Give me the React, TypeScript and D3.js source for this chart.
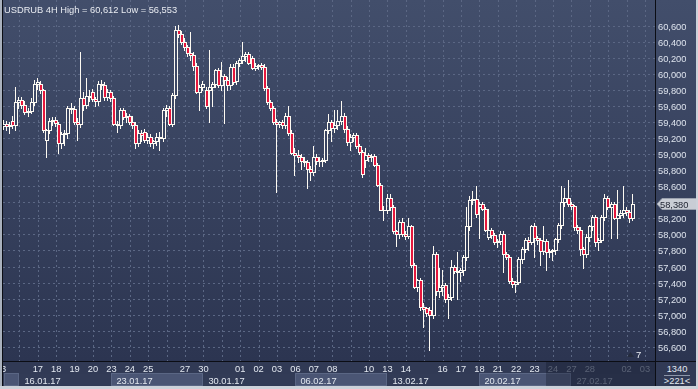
import React from 'react';
import * as d3 from 'd3';

const W = 698;
const H = 389;
const plotRight = 655;
const axisTop = 361;

const title = 'USDRUB 4H High = 60,612 Low = 56,553';
const lastPrice = 58.38;

const priceTicks = [
  56.6, 56.8, 57.0, 57.2, 57.4, 57.6, 57.8, 58.0, 58.2, 58.4, 58.6,
  58.8, 59.0, 59.2, 59.4, 59.6, 59.8, 60.0, 60.2, 60.4, 60.6,
];

// trading days, 0 = 13.01.17
const dayLabels = ['13', '17', '18', '19', '20', '23', '24', '25', '27', '30', '01', '02', '03', '06', '07', '08', '10', '13', '14', '16', '17', '18', '21', '22', '23', '24', '27', '28', '02', '03'];
const dayIndex = [0, 2, 3, 4, 5, 6, 7, 8, 10, 11, 13, 14, 15, 16, 17, 18, 20, 21, 22, 24, 25, 26, 27, 28, 29, 30, 31, 32, 34, 35];
const weekLabels = ['', '16.01.17', '23.01.17', '30.01.17', '06.02.17', '13.02.17', '20.02.17', '27.02.17'];
const weekStart = [-4, 1, 6, 11, 16, 21, 26, 31];

// open, high, low, close (thousands)
const ohlc: [number, number, number, number][] = [
  [59.35, 59.43, 59.31, 59.38], [59.38, 59.42, 59.30, 59.35], [59.35, 59.40, 59.27, 59.37], [59.42, 59.48, 59.33, 59.36],
  [59.36, 59.84, 59.30, 59.65], [59.65, 59.72, 59.58, 59.68], [59.68, 59.72, 59.58, 59.62], [59.62, 59.66, 59.50, 59.53],
  [59.53, 59.58, 59.48, 59.54], [59.54, 59.70, 59.52, 59.65], [59.65, 59.93, 59.62, 59.88], [59.88, 59.95, 59.82, 59.90],
  [59.88, 59.92, 59.76, 59.80], [59.80, 59.82, 59.28, 59.30], [59.18, 59.32, 58.96, 59.30], [59.30, 59.45, 59.26, 59.42],
  [59.42, 59.46, 59.36, 59.43], [59.43, 59.46, 59.35, 59.39], [59.38, 59.40, 59.02, 59.14], [59.14, 59.28, 59.08, 59.25],
  [59.25, 59.30, 59.12, 59.27], [59.27, 59.60, 59.20, 59.58], [59.58, 59.64, 59.52, 59.57], [59.57, 59.60, 59.38, 59.40],
  [59.40, 59.45, 59.18, 59.38], [59.38, 60.27, 59.34, 59.70], [59.70, 59.78, 59.55, 59.62], [59.62, 59.95, 59.58, 59.73],
  [59.73, 59.80, 59.66, 59.72], [59.78, 59.82, 59.66, 59.69], [59.69, 59.72, 59.60, 59.66], [59.66, 59.92, 59.62, 59.88],
  [59.88, 59.93, 59.82, 59.86], [59.86, 59.90, 59.68, 59.72], [59.72, 59.82, 59.68, 59.78], [59.78, 59.80, 59.66, 59.70],
  [59.70, 59.73, 59.36, 59.38], [59.38, 59.42, 59.28, 59.36], [59.36, 59.58, 59.33, 59.55], [59.55, 59.58, 59.44, 59.46],
  [59.46, 59.52, 59.40, 59.48], [59.48, 59.50, 59.38, 59.40],

  [59.40, 59.48, 59.33, 59.36], [59.36, 59.40, 59.08, 59.14], [59.14, 59.30, 59.10, 59.27], [59.27, 59.30, 59.16, 59.24],
  [59.28, 59.31, 59.15, 59.18], [59.18, 59.27, 59.14, 59.22], [59.22, 59.25, 59.10, 59.14], [59.14, 59.18, 59.08, 59.17],
  [59.17, 59.26, 59.12, 59.21], [59.21, 59.28, 59.05, 59.20], [59.20, 59.58, 59.16, 59.55], [59.55, 59.62, 59.48, 59.58],
  [59.58, 59.60, 59.36, 59.38], [59.38, 59.76, 59.35, 59.74], [59.74, 60.60, 59.70, 60.55], [60.55, 60.612, 60.46, 60.50],
  [60.50, 60.54, 60.38, 60.40], [60.40, 60.45, 60.30, 60.34], [60.34, 60.36, 60.22, 60.26], [60.26, 60.52, 60.18, 60.24],
  [60.24, 60.28, 60.05, 60.10], [60.10, 60.14, 59.76, 59.78], [59.78, 59.86, 59.55, 59.84], [59.84, 59.92, 59.80, 59.88],
  [59.80, 59.84, 59.58, 59.60], [59.80, 60.30, 59.40, 59.84], [59.84, 59.90, 59.60, 59.88], [59.88, 60.06, 59.84, 60.05],
  [60.05, 60.08, 59.84, 59.86], [59.86, 60.15, 59.80, 59.98], [59.98, 60.00, 59.39, 59.93], [59.93, 59.96, 59.80, 59.86],
  [59.86, 60.12, 59.82, 60.09], [60.09, 60.12, 59.88, 59.90], [59.92, 60.16, 59.88, 60.14], [60.14, 60.20, 60.10, 60.18],
  [60.18, 60.40, 60.14, 60.22], [60.22, 60.28, 60.16, 60.25], [60.25, 60.28, 60.12, 60.14], [60.20, 60.22, 60.06, 60.08],
  [60.08, 60.14, 60.05, 60.10], [60.10, 60.13, 60.06, 60.11],

  [60.11, 60.14, 60.06, 60.09], [60.09, 60.12, 59.80, 59.83], [59.83, 59.85, 59.63, 59.65], [59.65, 59.68, 59.55, 59.58],
  [59.58, 59.60, 59.38, 59.40], [59.40, 59.44, 58.53, 59.38], [59.38, 59.42, 59.34, 59.40], [59.40, 59.43, 59.33, 59.37],
  [59.37, 59.52, 59.33, 59.48], [59.48, 59.60, 59.24, 59.26], [59.26, 59.30, 59.00, 59.02], [59.02, 59.08, 58.74, 58.99],
  [58.99, 59.05, 58.90, 58.96], [58.96, 59.00, 58.82, 58.92], [58.92, 58.96, 58.85, 58.90], [58.90, 58.93, 58.58, 58.82],
  [58.82, 58.86, 58.68, 58.78], [58.78, 59.10, 58.74, 58.96], [58.96, 59.00, 58.88, 58.92], [58.92, 58.97, 58.86, 58.91],
  [58.91, 58.95, 58.86, 58.93], [58.93, 59.32, 58.90, 59.30], [59.30, 59.50, 59.26, 59.40], [59.40, 59.43, 59.16, 59.33],
  [59.33, 59.55, 59.28, 59.37], [59.37, 59.55, 59.32, 59.42], [59.42, 59.66, 59.38, 59.48], [59.48, 59.52, 59.28, 59.32],
  [59.32, 59.35, 59.12, 59.15], [59.15, 59.25, 59.05, 59.22], [59.22, 59.26, 59.16, 59.24], [59.24, 59.27, 59.08, 59.10],
  [59.10, 59.13, 59.00, 59.03], [59.03, 59.05, 58.72, 58.75], [58.93, 59.08, 58.84, 58.99], [58.99, 59.02, 58.92, 58.97],
  [58.97, 59.00, 58.92, 58.98], [58.98, 59.00, 58.85, 58.87], [58.87, 58.89, 58.60, 58.62], [58.62, 58.64, 58.30, 58.31],
  [58.31, 58.36, 58.18, 58.30], [58.30, 58.50, 58.27, 58.46], [58.46, 58.50, 58.30, 58.34],

  [58.34, 58.37, 58.02, 58.04], [58.04, 58.06, 57.85, 58.00], [58.00, 58.18, 57.96, 58.16], [58.16, 58.20, 57.98, 58.00],
  [58.00, 58.04, 57.94, 57.98], [57.98, 58.20, 57.95, 58.10], [58.10, 58.12, 57.60, 57.62], [57.62, 57.64, 57.33, 57.35],
  [57.35, 57.45, 57.30, 57.43], [57.43, 57.46, 57.06, 57.09], [57.09, 57.14, 56.84, 57.07], [57.08, 57.10, 56.98, 57.02],
  [57.06, 57.10, 56.553, 57.00], [57.00, 57.85, 56.96, 57.75], [57.75, 57.78, 57.25, 57.29], [57.29, 57.58, 57.22, 57.34],
  [57.34, 57.56, 57.24, 57.37], [57.37, 57.40, 57.16, 57.19], [57.19, 57.26, 56.96, 57.22], [57.22, 57.68, 57.18, 57.59],
  [57.59, 57.62, 57.52, 57.54], [57.54, 57.78, 57.20, 57.53], [57.53, 57.58, 57.42, 57.56], [57.56, 57.74, 57.50, 57.72],
  [57.72, 58.34, 57.68, 58.10], [58.10, 58.48, 58.06, 58.43], [58.43, 58.54, 58.38, 58.44], [58.44, 58.60, 58.22, 58.26],
  [58.34, 58.40, 57.95, 58.38], [58.38, 58.40, 58.30, 58.32], [58.32, 58.34, 58.04, 58.06], [57.97, 58.32, 57.94, 58.05],
  [58.05, 58.08, 57.95, 57.99], [57.99, 58.02, 57.88, 57.90], [57.90, 57.94, 57.84, 57.92], [57.92, 58.04, 57.88, 58.01],
  [58.01, 58.04, 57.53, 57.75], [57.75, 57.78, 57.70, 57.72], [57.72, 57.74, 57.40, 57.42], [57.42, 57.46, 57.34, 57.38],
  [57.38, 57.42, 57.28, 57.41], [57.41, 57.72, 57.38, 57.70],

  [57.70, 57.84, 57.64, 57.82], [57.82, 57.96, 57.78, 57.93], [57.93, 57.97, 57.80, 57.91], [57.91, 58.12, 57.88, 58.10],
  [58.10, 58.14, 57.72, 57.96], [57.96, 57.98, 57.88, 57.93], [57.93, 57.95, 57.62, 57.79], [57.79, 58.10, 57.76, 57.92],
  [57.92, 57.94, 57.56, 57.78], [57.78, 57.82, 57.72, 57.79], [57.79, 57.82, 57.68, 57.80], [57.80, 57.96, 57.76, 57.94],
  [57.94, 58.14, 57.90, 58.12], [58.12, 58.60, 58.08, 58.40], [58.40, 58.58, 58.36, 58.46], [58.46, 58.68, 58.36, 58.38],
  [58.38, 58.41, 58.32, 58.35], [58.35, 58.37, 58.06, 58.09], [58.09, 58.12, 58.02, 58.06], [58.06, 58.09, 57.74, 57.82],
  [57.82, 57.84, 57.58, 57.76], [57.76, 58.00, 57.72, 57.97], [57.97, 58.12, 57.92, 58.10], [58.10, 58.24, 58.05, 58.22],
  [58.22, 58.24, 57.86, 57.91], [57.91, 57.95, 57.80, 57.93], [57.93, 58.24, 57.90, 58.22], [58.22, 58.50, 58.18, 58.46],
  [58.46, 58.48, 58.32, 58.34], [58.34, 58.40, 57.95, 58.38], [58.38, 58.40, 58.19, 58.21], [58.21, 58.56, 57.95, 58.24],
  [58.24, 58.30, 58.20, 58.27], [58.27, 58.60, 58.22, 58.30], [58.30, 58.34, 58.24, 58.28], [58.28, 58.30, 58.15, 58.21],
  [58.21, 58.50, 58.18, 58.38],
];

const font = '"Liberation Sans", Arial, sans-serif';
const fmt = d3.format(',');

export default function App() {
  const x = d3.scaleLinear().domain([0, ohlc.length - 1]).range([4, 633]);
  const day = d3.scaleLinear().domain([0, 35]).range([1, 645]);
  const y = d3.scaleLinear().domain([56.6, 60.6]).range([346.7, 26]);
  const py = (v: number) => Math.round(y(v));

  const fadeFrom = 546;
  const tagY = py(lastPrice);
  // the price tag hides the tick label under it
  const visibleTicks = priceTicks.filter((t) => Math.abs(py(t) - tagY) > 9);

  return (
    <div style={{ position: 'fixed', left: 0, top: 0 }}>
      <svg width={W} height={H} style={{ display: 'block' }} fontFamily={font}>
        <defs>
          <linearGradient id="bg" x1="0" y1="0" x2="0" y2="1">
            <stop offset="0" stopColor="#424e6b" />
            <stop offset="1" stopColor="#2c3551" />
          </linearGradient>
          <clipPath id="plot">
            <rect x={3} y={0} width={plotRight - 3} height={axisTop} />
          </clipPath>
        </defs>
        <rect x={0} y={0} width={W} height={axisTop} fill="url(#bg)" />

        {/* grid */}
        <g stroke="#5b6784" strokeWidth={1} strokeDasharray="2,3" shapeRendering="crispEdges">
          {priceTicks.map((t) => (
            <line key={'h' + t} x1={3} x2={plotRight} y1={py(t) + 0.5} y2={py(t) + 0.5} />
          ))}
          {d3.range(1, 36).map((d) => (
            <line key={'v' + d} x1={Math.round(day(d)) + 0.5} x2={Math.round(day(d)) + 0.5} y1={0} y2={axisTop} />
          ))}
        </g>

        {/* candles */}
        <g clipPath="url(#plot)" shapeRendering="crispEdges">
          {ohlc.map(([o, h, l, c], i) => {
            const cx = Math.round(x(i));
            const top = py(Math.max(o, c));
            const bot = py(Math.min(o, c));
            const down = c < o;
            const hy = py(h);
            const ly = py(l);
            return (
              <g key={i}>
                {hy < top && <line x1={cx - 0.5} x2={cx - 0.5} y1={hy} y2={top} stroke="#fdfaf2" />}
                {ly > bot && <line x1={cx - 0.5} x2={cx - 0.5} y1={bot + 1} y2={ly + 1} stroke="#fdfaf2" />}
                {bot - top >= 1 ? (
                  <rect
                    x={cx - 1.5}
                    y={top + 0.5}
                    width={3}
                    height={bot - top}
                    fill={down ? '#e5173d' : 'none'}
                    stroke="#fdfaf2"
                  />
                ) : (
                  <line x1={cx - 2} x2={cx + 2} y1={top + 0.5} y2={top + 0.5} stroke="#fdfaf2" />
                )}
              </g>
            );
          })}
        </g>

        {/* title */}
        <text x={4} y={13} fontSize={9.3} fill="#e8ebf1">{title}</text>

        {/* marker 7 */}
        <path d="M627,357 L630.5,352 L634,357 Z" fill="#252c3e" />
        <text x={636} y={358} fontSize={9.5} fill="#eef1f6">7</text>

        {/* price axis */}
        <line x1={plotRight + 0.5} x2={plotRight + 0.5} y1={0} y2={H} stroke="#0b0d14" />
        {visibleTicks.map((t) => (
          <text key={'t' + t} x={658} y={py(t) + 3.5} fontSize={9.3} fill="#dde3ed">
            {fmt(Math.round(t * 1000))}
          </text>
        ))}
        <path
          d={`M657,${tagY} L662,${tagY - 5.5} L697,${tagY - 5.5} L697,${tagY + 5.5} L662,${tagY + 5.5} Z`}
          fill="#c9cdd5"
          stroke="#9aa1ae"
        />
        <text x={660} y={tagY + 3.5} fontSize={9.3} fill="#1d2230">
          {fmt(Math.round(lastPrice * 1000))}
        </text>

        {/* time axis */}
        <rect x={0} y={axisTop} width={plotRight} height={H - axisTop} fill="#313a55" />
        {weekStart.map((s, i) => {
          const x0 = Math.max(4, day(s));
          const x1 = i < weekStart.length - 1 ? day(weekStart[i + 1]) : plotRight;
          const light = i % 2 === 0;
          return (
            <g key={'w' + i}>
              <rect
                x={Math.round(x0) + 0.5}
                y={373.5}
                width={Math.round(x1) - Math.round(x0) - 1}
                height={12}
                fill={light ? '#4a5574' : '#323b56'}
                stroke={light ? '#5a6684' : 'none'}
              />
              {weekLabels[i] && (
                <text
                  x={day(s) + 5}
                  y={383.5}
                  fontSize={9.3}
                  fill={day(s) >= fadeFrom ? '#7e889d' : '#e3e8f0'}
                >
                  {weekLabels[i]}
                </text>
              )}
            </g>
          );
        })}
        {dayLabels.map((lab, i) => (
          <text
            key={'d' + i}
            x={day(dayIndex[i])}
            y={371.5}
            fontSize={9.3}
            textAnchor="middle"
            fill={day(dayIndex[i]) >= fadeFrom ? '#7e889d' : '#e3e8f0'}
          >
            {lab}
          </text>
        ))}
        <rect x={fadeFrom} y={axisTop + 1} width={plotRight - fadeFrom} height={H - axisTop - 3} fill="#141a2a" opacity={0.35} />
        <line x1={0} x2={W} y1={axisTop + 0.5} y2={axisTop + 0.5} stroke="#0b0d14" />

        {/* corner box */}
        <rect x={plotRight + 1} y={axisTop + 1} width={W - plotRight - 1} height={H - axisTop - 1} fill="#313a55" />
        <text x={677} y={371.5} fontSize={9.3} textAnchor="middle" fill="#e3e8f0">1340</text>
        <line x1={664} x2={690} y1={375.5} y2={375.5} stroke="#8c95a8" />
        <text x={677} y={384} fontSize={9.3} textAnchor="middle" fill="#e3e8f0">{'>221<'}</text>

        {/* frame */}
        <rect x={0} y={0} width={2} height={H} fill="#a9b1bd" />
        <line x1={2.5} x2={2.5} y1={0} y2={H} stroke="#0b0d14" />
        <rect x={0} y={H - 3} width={W} height={3} fill="#cdd2da" />
        <rect x={W - 2} y={0} width={2} height={H} fill="#cdd2da" />
      </svg>
    </div>
  );
}
